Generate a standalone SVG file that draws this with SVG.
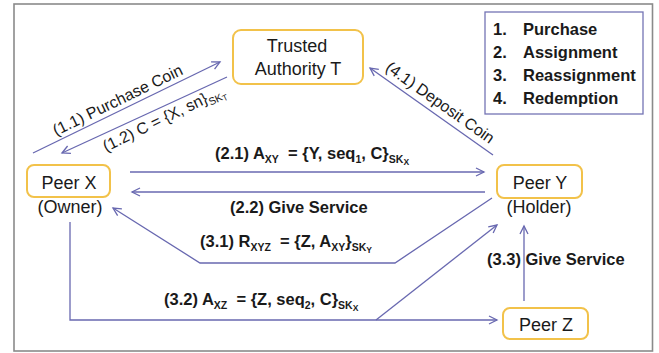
<svg xmlns="http://www.w3.org/2000/svg" width="659" height="353" viewBox="0 0 659 353">
  <defs>
    <marker id="arrow" markerUnits="userSpaceOnUse" markerWidth="12" markerHeight="12" refX="9" refY="5" orient="auto">
      <path d="M1,1 L9,5 L1,9" fill="none" stroke="#6868b0" stroke-width="1.3"/>
    </marker>
    <style>
      .frame { fill: #ffffff; stroke: #8a8a8a; stroke-width: 1.6; }
      .node { fill: #ffffff; stroke: #f2c24a; stroke-width: 2; }
      .legend { fill: #ffffff; stroke: #7474b4; stroke-width: 1.3; }
      .edge { fill: none; stroke: #6868b0; stroke-width: 1.3; marker-end: url(#arrow); }
      .nt { font-family: "Liberation Sans", Arial, sans-serif; font-size: 18px; fill: #1a1a1a; text-anchor: middle; }
      .lbl { font-family: "Liberation Sans", Arial, sans-serif; font-size: 16px; fill: #1a1a1a; }
      .b { font-weight: bold; font-size: 16.5px; }
      .sub { font-size: 10.5px; }
      .sub2 { font-size: 8.5px; }
    </style>
  </defs>

  <rect class="frame" x="14" y="4" width="638.5" height="347"/>

  <!-- legend -->
  <g id="legend">
    <rect class="legend" x="485" y="12" width="158" height="102"/>
    <text class="lbl b" x="493" y="35">1.</text>
    <text class="lbl b" x="523" y="35">Purchase</text>
    <text class="lbl b" x="493" y="58">2.</text>
    <text class="lbl b" x="523" y="58">Assignment</text>
    <text class="lbl b" x="493" y="81">3.</text>
    <text class="lbl b" x="523" y="81">Reassignment</text>
    <text class="lbl b" x="493" y="104">4.</text>
    <text class="lbl b" x="523" y="104">Redemption</text>
  </g>

  <!-- connectors -->
  <g id="connectors">
    <!-- 1.1 / 1.2 purchase -->
    <line class="edge" x1="33" y1="153" x2="220" y2="62"/>
    <line class="edge" x1="227" y1="77" x2="62" y2="153"/>
    <!-- 4.1 deposit -->
    <line class="edge" x1="493" y1="155" x2="370" y2="68"/>
    <!-- 2.1 / 2.2 -->
    <line class="edge" x1="130" y1="172" x2="484" y2="172"/>
    <line class="edge" x1="485" y1="192" x2="132" y2="192"/>
    <!-- 3.1 reassignment request -->
    <polyline class="edge" points="492,198 395,263 200,263 113,208"/>
    <!-- 3.2 new assignment -->
    <polyline class="edge" points="70,222 70,320 497,320"/>
    <line class="edge" x1="376" y1="320" x2="497" y2="225"/>
    <!-- 3.3 service -->
    <line class="edge" x1="524" y1="301" x2="524" y2="226"/>

    <text class="lbl" transform="translate(120,105) rotate(-25.9)" text-anchor="middle">(1.1) Purchase Coin</text>
    <text class="lbl" transform="translate(106,152) rotate(-25.8)">(1.2) C = {X, sn}<tspan class="sub" dy="4">SK</tspan><tspan class="sub2" dy="2">T</tspan></text>
    <text class="lbl" transform="translate(437,107) rotate(35.3)" text-anchor="middle">(4.1) Deposit Coin</text>

    <text class="lbl b" x="215" y="159" xml:space="preserve">(2.1) A<tspan class="sub" dy="4">XY</tspan><tspan dy="-4">  = {Y, seq</tspan><tspan class="sub" dy="4">1</tspan><tspan dy="-4">, C}</tspan><tspan class="sub" dy="4">SK</tspan><tspan class="sub2" dy="2">X</tspan></text>
    <text class="lbl b" x="230" y="213">(2.2) Give Service</text>
    <text class="lbl b" x="200" y="247" xml:space="preserve">(3.1) R<tspan class="sub" dy="4">XYZ</tspan><tspan dy="-4">  = {Z, A</tspan><tspan class="sub" dy="4">XY</tspan><tspan dy="-4">}</tspan><tspan class="sub" dy="4">SK</tspan><tspan class="sub2" dy="2">Y</tspan></text>
    <text class="lbl b" x="164" y="305" xml:space="preserve">(3.2) A<tspan class="sub" dy="4">XZ</tspan><tspan dy="-4">  = {Z, seq</tspan><tspan class="sub" dy="4">2</tspan><tspan dy="-4">, C}</tspan><tspan class="sub" dy="4">SK</tspan><tspan class="sub2" dy="2">X</tspan></text>
    <text class="lbl b" x="487" y="265">(3.3) Give Service</text>
  </g>

  <!-- nodes -->
  <g id="trusted-authority">
    <rect class="node" x="233" y="30" width="130" height="54" rx="8"/>
    <text class="nt" x="297" y="52">Trusted</text>
    <text class="nt" x="298" y="75">Authority T</text>
  </g>
  <g id="peer-x">
    <rect class="node" x="27" y="165" width="83" height="32" rx="7"/>
    <text class="nt" x="69" y="189">Peer X</text>
    <text class="nt" x="70" y="213">(Owner)</text>
  </g>
  <g id="peer-y">
    <rect class="node" x="497" y="165" width="85" height="33" rx="7"/>
    <text class="nt" x="540" y="189">Peer Y</text>
    <text class="nt" x="539" y="213">(Holder)</text>
  </g>
  <g id="peer-z">
    <rect class="node" x="503" y="308" width="85" height="31" rx="7"/>
    <text class="nt" x="546" y="331">Peer Z</text>
  </g>
</svg>
